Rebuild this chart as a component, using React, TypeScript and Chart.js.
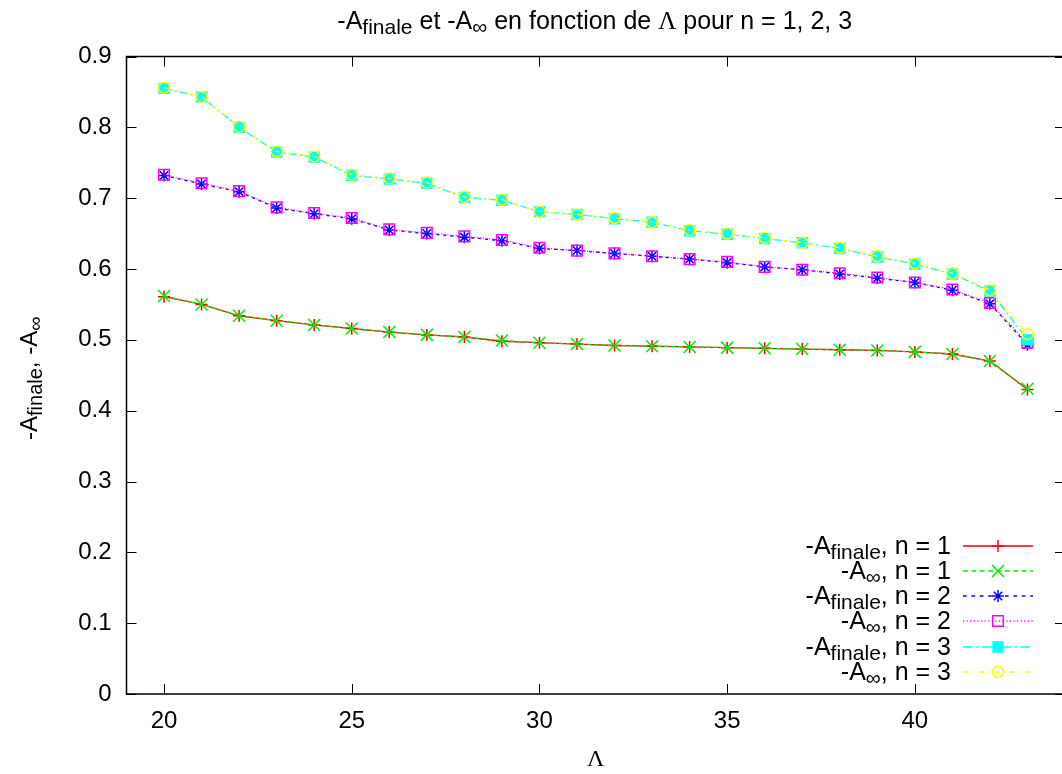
import React, { useEffect, useRef } from 'react';
import { Chart, registerables } from 'chart.js';
import { drawPoint } from 'chart.js/helpers';

Chart.register(...registerables);

// ---------------- data ----------------
const lambda = [20, 21, 22, 23, 24, 25, 26, 27, 28, 29, 30, 31, 32, 33, 34, 35, 36, 37, 38, 39, 40, 41, 42, 43];

const n1Finale = [0.561, 0.550, 0.534, 0.527, 0.521, 0.516, 0.511, 0.507, 0.504, 0.498, 0.496, 0.494, 0.492, 0.491, 0.490, 0.489, 0.488, 0.487, 0.486, 0.485, 0.483, 0.480, 0.470, 0.430];
const n1Inf = [0.562, 0.550, 0.534, 0.527, 0.521, 0.516, 0.511, 0.507, 0.504, 0.499, 0.496, 0.494, 0.492, 0.491, 0.490, 0.489, 0.488, 0.487, 0.486, 0.485, 0.483, 0.480, 0.470, 0.431];
const n2Finale = [0.732, 0.720, 0.709, 0.686, 0.678, 0.671, 0.655, 0.650, 0.645, 0.640, 0.629, 0.626, 0.622, 0.618, 0.614, 0.609, 0.603, 0.599, 0.593, 0.587, 0.581, 0.570, 0.551, 0.493];
const n2Inf = [0.733, 0.721, 0.710, 0.687, 0.679, 0.672, 0.656, 0.651, 0.646, 0.641, 0.630, 0.626, 0.622, 0.618, 0.614, 0.610, 0.603, 0.599, 0.594, 0.588, 0.581, 0.571, 0.552, 0.496];
const n3Finale = [0.855, 0.843, 0.800, 0.765, 0.758, 0.732, 0.727, 0.721, 0.701, 0.697, 0.681, 0.677, 0.671, 0.666, 0.654, 0.649, 0.643, 0.637, 0.629, 0.617, 0.607, 0.593, 0.569, 0.500];
const n3Inf = [0.856, 0.843, 0.801, 0.766, 0.759, 0.733, 0.728, 0.722, 0.702, 0.698, 0.681, 0.677, 0.672, 0.666, 0.655, 0.650, 0.644, 0.637, 0.630, 0.618, 0.608, 0.594, 0.570, 0.508];

const xTickValues = [20, 25, 30, 35, 40];
const yTickValues = [0, 0.1, 0.2, 0.3, 0.4, 0.5, 0.6, 0.7, 0.8, 0.9];
const yTickLabels = ['0', '0.1', '0.2', '0.3', '0.4', '0.5', '0.6', '0.7', '0.8', '0.9'];

// ---------------- styling ----------------
const SANS = '"Liberation Sans", Arial, Helvetica, sans-serif';
const SERIF = '"Liberation Serif", "Times New Roman", serif';
const FONT = 24;
const TXT = 25;
const SUB = 21;
const SUB_SHIFT = 5;

type Seg = { t: string; sub?: boolean; serif?: boolean };

const finaleSegs = (n: number): Seg[] => [{ t: '-A' }, { t: 'finale', sub: true }, { t: `, n = ${n}` }];
const infSegs = (n: number): Seg[] => [{ t: '-A' }, { t: '∞', sub: true }, { t: `, n = ${n}` }];

const seriesDefs = [
  { label: finaleSegs(1), values: n1Finale, color: '#ff0000', dash: [] as number[], style: 'cross', radius: 6, fill: false },
  { label: infSegs(1), values: n1Inf, color: '#00ee00', dash: [4, 3], style: 'crossRot', radius: 8.5, fill: false },
  { label: finaleSegs(2), values: n2Finale, color: '#0000ff', dash: [3, 4], style: 'star', radius: 6, fill: false },
  { label: infSegs(2), values: n2Inf, color: '#ff00ff', dash: [1, 2], style: 'rect', radius: 7.5, fill: false },
  { label: finaleSegs(3), values: n3Finale, color: '#00ffff', dash: [8, 3, 2, 3], style: 'rect', radius: 7, fill: true },
  { label: infSegs(3), values: n3Inf, color: '#ffff00', dash: [4, 4, 1, 4], style: 'circle', radius: 5.5, fill: false },
];

const titleSegs: Seg[] = [
  { t: '-A' }, { t: 'finale', sub: true }, { t: ' et -A' }, { t: '∞', sub: true },
  { t: ' en fonction de ' }, { t: 'Λ', serif: true }, { t: ' pour n = 1, 2, 3' },
];
const yTitleSegs: Seg[] = [{ t: '-A' }, { t: 'finale', sub: true }, { t: ', -A' }, { t: '∞', sub: true }];

function segFont(s: Seg, size: number, sub: number) {
  const sz = s.sub ? sub : size;
  return `${sz}px ${s.serif ? SERIF : SANS}`;
}
function drawSegs(
  ctx: CanvasRenderingContext2D, segs: Seg[], x: number, y: number,
  align: 'left' | 'center' | 'right', size: number, sub: number,
) {
  let w = 0;
  for (const s of segs) {
    ctx.font = segFont(s, size, sub);
    w += ctx.measureText(s.t).width;
  }
  let cx = align === 'left' ? x : align === 'center' ? x - w / 2 : x - w;
  ctx.textAlign = 'left';
  ctx.textBaseline = 'alphabetic';
  for (const s of segs) {
    ctx.font = segFont(s, size, sub);
    ctx.fillText(s.t, cx, y + (s.sub ? SUB_SHIFT : 0));
    cx += ctx.measureText(s.t).width;
  }
}

const decorPlugin = {
  id: 'gnuplotDecor',
  beforeDatasetsDraw(chart: any) {
    const { ctx, chartArea: a, scales } = chart;
    ctx.save();
    ctx.strokeStyle = '#000';
    ctx.lineWidth = 1.5;
    ctx.strokeRect(a.left, a.top, a.right - a.left, a.bottom - a.top);
    ctx.lineWidth = 1;
    const tl = 10;
    ctx.beginPath();
    for (const v of xTickValues) {
      const px = Math.round(scales.x.getPixelForValue(v)) + 0.5;
      ctx.moveTo(px, a.bottom); ctx.lineTo(px, a.bottom - tl);
      ctx.moveTo(px, a.top); ctx.lineTo(px, a.top + tl);
    }
    for (const v of yTickValues) {
      const py = Math.round(scales.y.getPixelForValue(v)) + 0.5;
      ctx.moveTo(a.left, py); ctx.lineTo(a.left + tl, py);
      ctx.moveTo(a.right, py); ctx.lineTo(a.right - tl, py);
    }
    ctx.stroke();
    ctx.restore();
  },
  afterDraw(chart: any) {
    const { ctx, chartArea: a } = chart;
    ctx.save();
    ctx.fillStyle = '#000';
    // title
    drawSegs(ctx, titleSegs, (a.left + a.right) / 2 - 1, 29, 'center', TXT, SUB);
    // x axis title
    ctx.font = `24px ${SERIF}`;
    ctx.textAlign = 'center';
    ctx.textBaseline = 'alphabetic';
    ctx.fillText('Λ', (a.left + a.right) / 2, 766);
    // y axis title
    ctx.save();
    ctx.translate(37, (a.top + a.bottom) / 2 + 3);
    ctx.rotate(-Math.PI / 2);
    drawSegs(ctx, yTitleSegs, 0, 0, 'center', FONT, 20);
    ctx.restore();
    // legend
    const textRight = a.right - 114;
    const lineStart = a.right - 102;
    const lineEnd = a.right - 32;
    const markX = a.right - 67;
    const rowH = 25.3;
    const lastRowY = a.bottom - 22;
    seriesDefs.forEach((s, i) => {
      const y = Math.round(lastRowY - (seriesDefs.length - 1 - i) * rowH);
      ctx.fillStyle = '#000';
      drawSegs(ctx, s.label, textRight, y + 8, 'right', TXT, SUB);
      ctx.strokeStyle = s.color;
      ctx.lineWidth = 1.5;
      ctx.setLineDash(s.dash.map((d) => d * 1.2));
      ctx.beginPath();
      ctx.moveTo(lineStart, y);
      ctx.lineTo(lineEnd, y);
      ctx.stroke();
      ctx.setLineDash([]);
      ctx.strokeStyle = s.color;
      ctx.fillStyle = s.fill ? s.color : 'rgba(255,255,255,0)';
      drawPoint(ctx, { pointStyle: s.style as any, radius: s.radius, rotation: 0, borderWidth: 1.5 }, markX, y);
    });
    ctx.restore();
  },
};

export default function App() {
  const ref = useRef<HTMLCanvasElement | null>(null);

  useEffect(() => {
    if (!ref.current) return;
    const datasets = seriesDefs.map((s, i) => ({
      label: s.label.map((g) => g.t).join(''),
      data: lambda.map((x, k) => ({ x, y: s.values[k] })),
      borderColor: s.color,
      borderWidth: 1.3,
      borderDash: s.dash,
      backgroundColor: s.color,
      pointStyle: s.style as any,
      pointRadius: s.radius,
      pointBorderWidth: 1.5,
      pointBorderColor: s.color,
      pointBackgroundColor: s.fill ? s.color : 'rgba(255,255,255,0)',
      tension: 0,
      fill: false,
      order: seriesDefs.length - i,
    }));

    const chart = new Chart(ref.current, {
      type: 'line',
      data: { datasets },
      plugins: [decorPlugin],
      options: {
        responsive: false,
        animation: false,
        devicePixelRatio: 1,
        layout: { padding: { left: 0, top: 56.5, right: 4, bottom: 0 } },
        plugins: {
          legend: { display: false },
          title: { display: false },
          tooltip: { enabled: false },
        },
        scales: {
          x: {
            type: 'linear',
            min: 19,
            max: 44,
            grid: { display: false, drawTicks: false },
            border: { display: false },
            ticks: {
              color: '#000',
              font: { family: SANS, size: FONT },
              padding: 13,
              maxRotation: 0,
              autoSkip: false,
              callback: (v: any) => String(v),
            },
            afterBuildTicks: (s: any) => {
              s.ticks = xTickValues.map((v) => ({ value: v }));
            },
            afterFit: (s: any) => {
              s.height = 80;
            },
          },
          y: {
            type: 'linear',
            min: 0,
            max: 0.9,
            grid: { display: false, drawTicks: false },
            border: { display: false },
            ticks: {
              color: '#000',
              font: { family: SANS, size: FONT },
              padding: 15,
              autoSkip: false,
              callback: (v: any) => {
                const idx = yTickValues.findIndex((t) => Math.abs(t - v) < 1e-9);
                return idx >= 0 ? yTickLabels[idx] : '';
              },
            },
            afterBuildTicks: (s: any) => {
              s.ticks = yTickValues.map((v) => ({ value: v }));
            },
            afterFit: (s: any) => {
              s.width = 126.5;
            },
          },
        },
      },
    });
    return () => chart.destroy();
  }, []);

  return (
    <div style={{ position: 'fixed', left: 0, top: 0, width: 1062, height: 774, overflow: 'hidden', background: '#fff' }}>
      <canvas ref={ref} width={1075} height={774} style={{ display: 'block' }} />
    </div>
  );
}
